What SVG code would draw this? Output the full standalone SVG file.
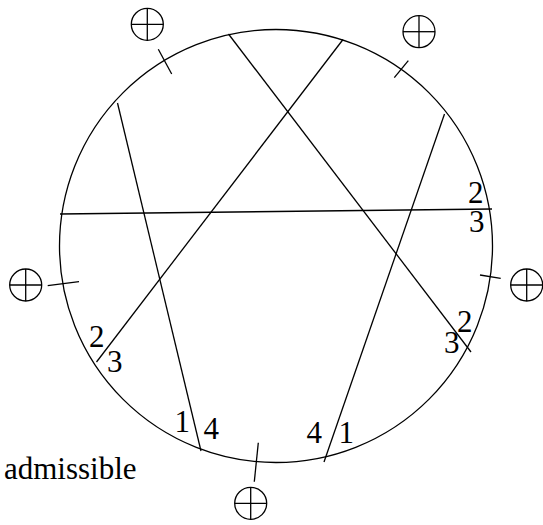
<svg xmlns="http://www.w3.org/2000/svg" width="543" height="525" viewBox="0 0 543 525">
<style>
.ln{fill:none;stroke:#000;stroke-width:1.3;stroke-linecap:butt}
.lbl{font-family:"Liberation Serif","Times New Roman",serif;font-size:31px;fill:#000}
</style>
<defs>
<g id="oplus">
<circle cx="0" cy="0" r="16" class="ln"/>
<line x1="-16" y1="0" x2="16" y2="0" class="ln"/>
<line x1="0" y1="-16" x2="0" y2="16" class="ln"/>
</g>
</defs>
<rect width="543" height="525" fill="#fff"/>
<g id="outer-circle">
<circle cx="276" cy="246" r="216.5" class="ln"/>
</g>
<g id="connectors">
<line x1="60" y1="214" x2="492" y2="209" class="ln"/>
<line x1="228.5" y1="34" x2="471" y2="352" class="ln"/>
<line x1="343" y1="39.5" x2="96.5" y2="362" class="ln"/>
<line x1="117.5" y1="103" x2="201" y2="451" class="ln"/>
<line x1="444.5" y1="114" x2="324" y2="462" class="ln"/>
</g>
<g id="ticks">
<line x1="158.3" y1="49.3" x2="171.7" y2="74" class="ln"/>
<line x1="408.3" y1="60.7" x2="394.3" y2="77.7" class="ln"/>
<line x1="47.7" y1="285.7" x2="79" y2="281.7" class="ln"/>
<line x1="480" y1="275" x2="500.7" y2="278.3" class="ln"/>
<line x1="258.3" y1="442.7" x2="254.3" y2="481.7" class="ln"/>
</g>
<g id="oplus-top-left"><use href="#oplus" x="147.3" y="24.3"/></g>
<g id="oplus-top-right"><use href="#oplus" x="419" y="31.7"/></g>
<g id="oplus-left"><use href="#oplus" x="25.7" y="285"/></g>
<g id="oplus-right"><use href="#oplus" x="526.7" y="285"/></g>
<g id="oplus-bottom"><use href="#oplus" x="250.7" y="503.3"/></g>
<g id="labels">
<text class="lbl" x="468" y="203">2</text>
<text class="lbl" x="469" y="232">3</text>
<text class="lbl" x="457" y="332">2</text>
<text class="lbl" x="444" y="353">3</text>
<text class="lbl" x="89" y="347">2</text>
<text class="lbl" x="107" y="372">3</text>
<text class="lbl" x="174.5" y="432">1</text>
<text class="lbl" x="203.5" y="439">4</text>
<text class="lbl" x="306.5" y="443">4</text>
<text class="lbl" x="338.5" y="443">1</text>
<text class="lbl" x="4" y="479">admissible</text>
</g>
</svg>
